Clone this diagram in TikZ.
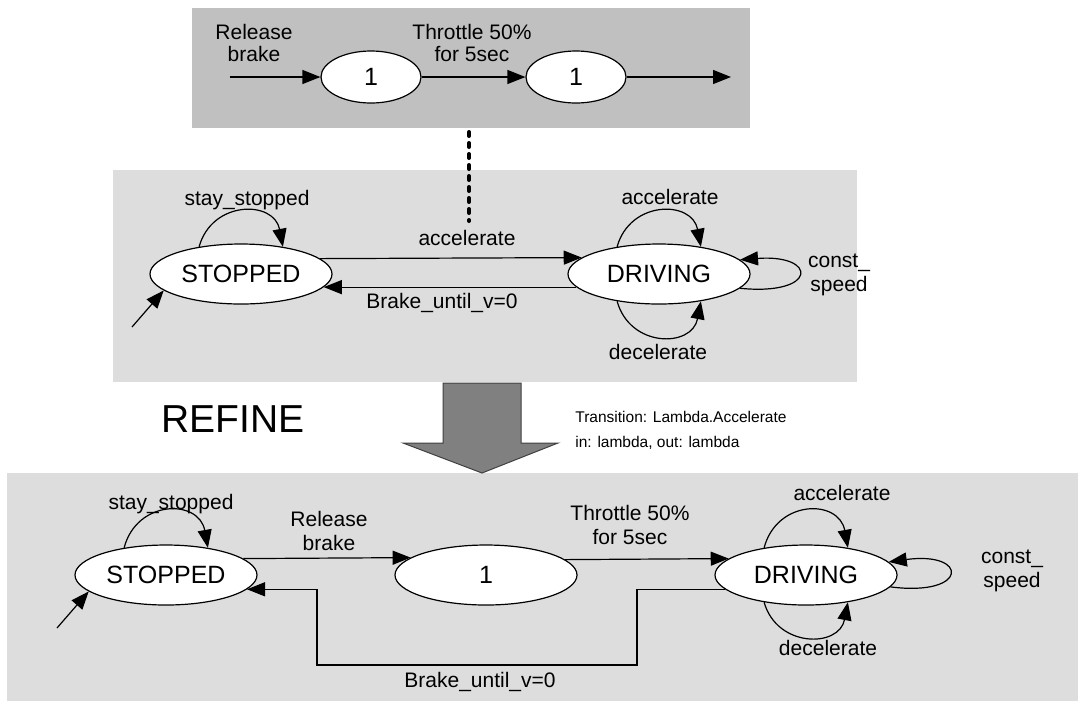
\documentclass[tikz,border=0pt]{standalone}
\usepackage{fontspec}
\setmainfont{Liberation Sans}
\usetikzlibrary{arrows.meta,shapes.geometric}

\definecolor{paneldark}{HTML}{C0C0C0}
\definecolor{panellight}{HTML}{DDDDDD}
\definecolor{bigarrow}{HTML}{808080}
\definecolor{bigarrowline}{HTML}{404040}

\tikzset{
  state/.style={ellipse, draw=black, fill=white, line width=0.6pt,
    minimum width=91pt, minimum height=30pt, inner sep=0pt,
    font=\fontsize{12.5}{15}\selectfont},
  smallstate/.style={state, minimum width=50pt, minimum height=26pt},
  lbl/.style={inner sep=0pt, align=center, font=\fontsize{10.5}{12}\selectfont},
  toplbl/.style={lbl, font=\fontsize{10.5}{11}\selectfont},
  arr/.style={-{Triangle[length=9pt,width=7pt]}, line width=0.6pt},
  dotlink/.style={line width=2pt, line cap=round, dash pattern=on 2pt off 3.5pt}
}

\begin{document}
\begin{tikzpicture}[x=0.5pt, y=-0.5pt]
  \useasboundingbox (0,0) rectangle (1085,708);

  % panels
  \fill[paneldark]  (192,8)   rectangle (750,128);
  \fill[panellight] (113,170) rectangle (857,382);
  \fill[panellight] (7,473)   rectangle (1078,701);

  % ---------- top panel: the refined transition ----------
  \coordinate (tin)  at (230,77);
  \coordinate (tout) at (731,77);
  \node[smallstate] (t1) at (371,77) {1};
  \node[smallstate] (t2) at (576,77) {1};
  \draw[arr] (tin) -- (t1.west);
  \draw[arr] (t1.east) -- (t2.west);
  \draw[arr] (t2.east) -- (tout);
  \node[toplbl] (trel) at (254,43) {Release\\brake};
  \node[toplbl] (tthr) at (472,43) {Throttle 50\%\\for 5sec};

  % ---------- middle panel: abstract machine ----------
  \node[state] (sM) at (241,274) {STOPPED};
  \node[state] (dM) at (659,274) {DRIVING};
  \coordinate (initM) at (132,327);

  \draw[arr] (sM.11.74) -- (dM.168.26);
  \draw[arr] (dM.189.87) -- (sM.-9.87);
  \draw[arr] (initM) -- (sM.192);
  \draw[arr] (sM.147) .. controls (212,200) and (274,200) .. (sM.33);
  \draw[arr] (dM.147) .. controls (630,200) and (692,200) .. (dM.33);
  \draw[arr] (dM.213) .. controls (630,348) and (692,348) .. (dM.-33);
  \draw[arr] (dM.-10.2) .. controls (818,296) and (818,254) .. (dM.10.6);

  \node[lbl] (accM)   at (467,238) {accelerate};
  \node[lbl] (brkM)   at (442,303) {Brake\_until\_v=0};
  \node[lbl] (stayM)  at (247,200) {stay\_stopped};
  \node[lbl] (accLM)  at (670,197) {accelerate};
  \node[lbl] (decLM)  at (658,352) {decelerate};
  \node[lbl] (constM) at (839,275) {const\_\\speed};

  % dotted link from the top panel to the transition it refines
  \coordinate (dotTop) at (469,132);
  \coordinate (dotBot) at (469,221);
  \draw[dotlink] (dotTop) -- (dotBot);

  % ---------- refine arrow and caption ----------
  \filldraw[fill=bigarrow, draw=bigarrowline, line width=0.5pt]
    (443,383) -- (521,383) -- (521,443) -- (558,443) -- (482,473)
    -- (403,443) -- (443,443) -- cycle;
  \node[inner sep=0pt, font=\fontsize{19.5}{22}\selectfont] (refine) at (233,419) {REFINE};
  \node[inner sep=0pt, anchor=west, align=left,
        font=\fontsize{7.75}{12.5}\selectfont] (trans) at (575,430)
    {Transition: Lambda.Accelerate\\in: lambda, out: lambda};

  % ---------- bottom panel: refined machine ----------
  \node[state] (sB) at (166,575) {STOPPED};
  \node[state] (iB) at (486,575) {1};
  \node[state] (dB) at (806,575) {DRIVING};
  \coordinate (initB) at (57,628);
  \coordinate (bR) at (637,665);
  \coordinate (bL) at (317,665);

  \draw[arr] (initB) -- (sB.192);
  \draw[arr] (sB.12.77) -- (iB.167.23);
  \draw[arr] (iB.11.74) -- (dB.168.26);
  \draw[arr] (dB.190.78) -| (bR) -- (bL) |- (sB.-10.78);
  \draw[arr] (sB.147) .. controls (137,499) and (199,499) .. (sB.33);
  \draw[arr] (dB.147) .. controls (777,499) and (839,499) .. (dB.33);
  \draw[arr] (dB.213) .. controls (777,648) and (839,648) .. (dB.-33);
  \draw[arr] (dB.-8.8) .. controls (969,597) and (969,551) .. (dB.9.7);

  \node[lbl] (stayB)  at (171,504) {stay\_stopped};
  \node[lbl] (relB)   at (329,531) {Release\\brake};
  \node[lbl] (thrB)   at (630,525) {Throttle 50\%\\for 5sec};
  \node[lbl] (brkB)   at (480,682) {Brake\_until\_v=0};
  \node[lbl] (accB)   at (842,493) {accelerate};
  \node[lbl] (decB)   at (828,648) {decelerate};
  \node[lbl] (constB) at (1012,571) {const\_\\speed};
\end{tikzpicture}
\end{document}
